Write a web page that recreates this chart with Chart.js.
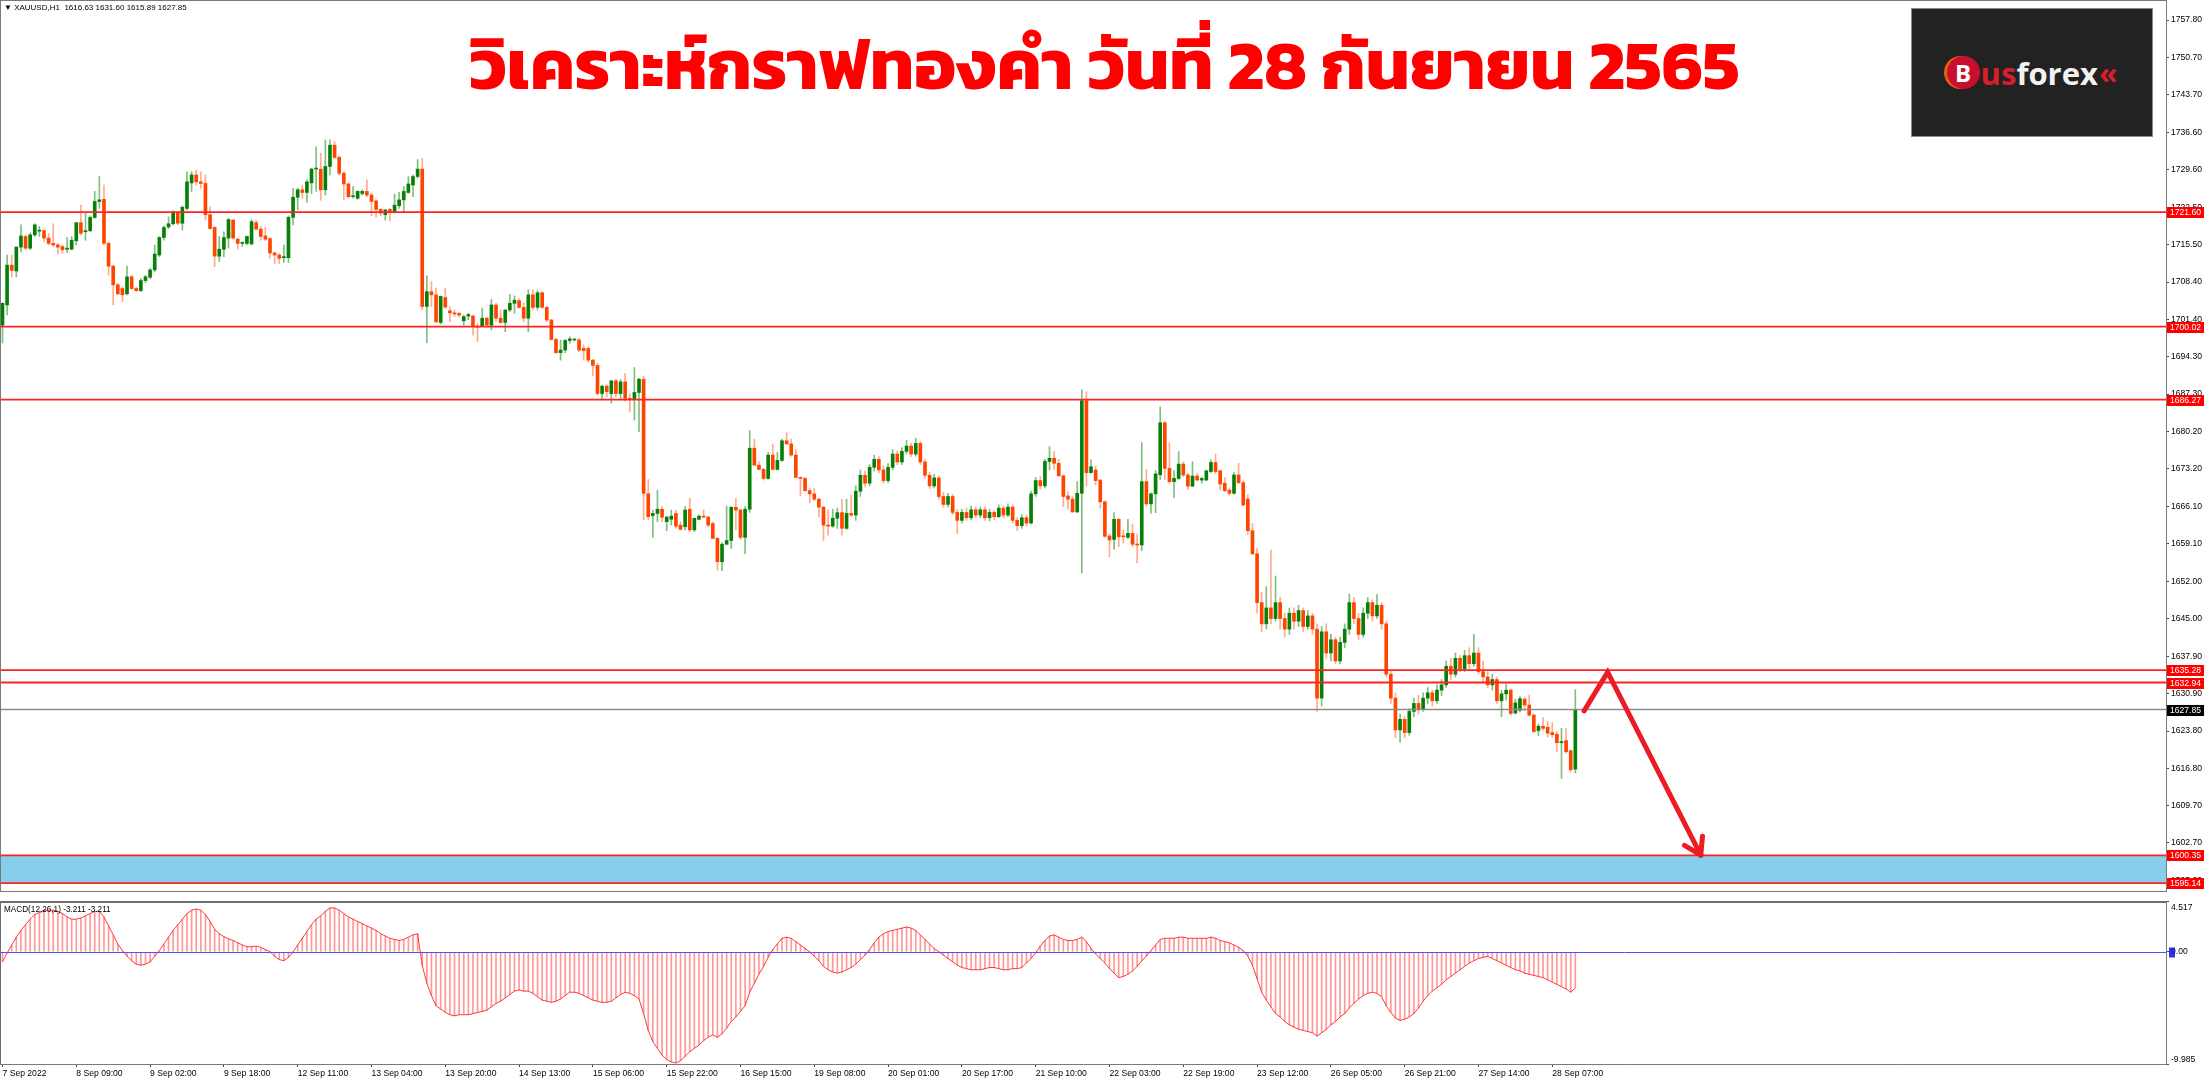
<!DOCTYPE html>
<html>
<head>
<meta charset="utf-8">
<script src="https://cdn.jsdelivr.net/npm/chart.js@4.4.0/dist/chart.umd.min.js"></script>
<style>
html,body{margin:0;padding:0;background:#fff;}
body{width:2209px;height:1080px;position:relative;overflow:hidden;font-family:"Liberation Sans","DejaVu Sans",sans-serif;}
#priceChart{position:absolute;left:0;top:0;}
#macdChart{position:absolute;left:0;top:901px;}
.info{position:absolute;left:4px;font-size:8px;color:#000;white-space:nowrap;}
.title{position:absolute;left:0;top:12px;width:2209px;text-align:center;font-size:70px;font-weight:bold;color:#ff0000;
  font-family:"Kanit","Noto Sans Thai","Noto Sans Thai Looped","Loma","Garuda","Tlwg Typo","Noto Sans",sans-serif;}
.logo{position:absolute;left:1911px;top:8px;width:240px;height:127px;background:#222;border:1px solid #8a8a8a;
  display:flex;align-items:center;justify-content:center;font-family:"Open Sans","Liberation Sans",sans-serif;font-weight:bold;font-size:31px;}
.logo .b{display:inline-block;width:33px;height:33px;border-radius:50%;background:#c8102e;color:#fff;text-align:center;line-height:33px;font-size:24px;box-shadow:-3px 0 0 #e0601a;margin-right:1px;}
.logo .us{color:#d71e2b;}
.logo .fx{color:#f2f2f2;}
.logo .ch{color:#d71e2b;font-size:30px;margin-left:1px;}
</style>
</head>
<body>
<canvas id="priceChart" width="2209" height="892"></canvas>
<canvas id="macdChart" width="2209" height="179"></canvas>
<div class="info" style="top:3px;">&#9660; XAUUSD,H1&nbsp; 1616.63 1631.60 1615.89 1627.85</div>
<div class="info" style="top:905px;font-size:8.2px;">MACD(12,26,1) -3.211 -3.211</div>
<div class="title">วิเคราะห์กราฟทองคำ วันที่ 28 กันยายน 2565</div>
<div class="logo"><span class="b">B</span><span class="us">us</span><span class="fx">forex</span><span class="ch">&laquo;</span></div>
<script>
// hourly XAUUSD candles, 7 Sep 2022 .. 28 Sep 2022 12:00
let opens = [
1700.3,1704.1,1711.6,1710.5,1715.0,1717.0,1714.8,1717.3,1718.0,1718.1,
1716.7,1715.7,1715.4,1715.1,1714.6,1714.6,1716.2,1719.6,1717.9,1718.1,
1720.6,1723.6,1724.0,1715.7,1711.4,1707.9,1707.2,1706.2,1709.4,1707.2,
1706.8,1708.7,1709.3,1710.7,1713.5,1716.8,1718.8,1719.4,1721.4,1719.5,
1722.3,1727.1,1728.6,1727.3,1727.0,1721.1,1718.7,1713.3,1714.6,1716.7,
1720.1,1716.5,1715.7,1715.7,1715.6,1719.6,1718.4,1717.1,1716.6,1713.9,
1713.5,1713.0,1713.0,1720.6,1724.4,1725.8,1725.3,1727.1,1729.7,1729.7,
1725.8,1730.2,1734.2,1731.9,1728.9,1726.9,1724.5,1724.2,1725.1,1725.5,
1724.8,1723.7,1722.1,1721.1,1722.1,1721.5,1722.8,1723.9,1725.3,1726.7,
1728.3,1729.7,1703.8,1706.6,1706.0,1700.8,1705.5,1703.0,1702.6,1702.5,
1701.1,1702.0,1702.0,1700.1,1700.1,1701.6,1700.3,1704.1,1701.6,1700.8,
1703.15,1704.4,1704.9,1703.65,1701.6,1706.0,1703.65,1706.4,1703.65,1701.26,
1697.6,1695.1,1695.6,1697.4,1697.5,1697.5,1695.9,1695.9,1693.7,1692.7,
1687.4,1688.8,1687.4,1689.8,1687.4,1689.6,1686.5,1686.3,1687.6,1690.1,
1668.5,1664.4,1664.8,1665.6,1663.25,1663.7,1664.8,1662.6,1662.3,1665.6,
1661.7,1663.7,1664.3,1664.1,1662.9,1660.1,1655.7,1659.0,1659.7,1665.95,
1665.45,1660.3,1665.6,1677.1,1673.9,1673.1,1671.4,1675.8,1673.1,1674.8,
1678.5,1677.9,1675.8,1671.6,1671.4,1669.1,1668.5,1667.5,1666.0,1662.6,
1662.4,1663.9,1664.95,1662.0,1664.8,1664.5,1669.0,1672.0,1670.5,1673.5,
1675.0,1673.0,1671.0,1673.5,1676.0,1674.5,1676.5,1677.5,1676.0,1678.0,
1674.5,1672.0,1670.0,1671.5,1668.0,1666.5,1668.0,1665.0,1663.5,1665.0,
1664.0,1665.5,1664.5,1665.5,1664.0,1665.0,1664.2,1665.8,1664.5,1666.0,
1663.5,1662.5,1664.0,1663.0,1668.5,1671.0,1670.0,1674.6,1675.2,1674.25,
1671.9,1668.1,1667.5,1665.1,1668.6,1686.05,1672.5,1673.0,1671.1,1667.0,
1660.55,1659.9,1663.7,1660.5,1660.3,1661.05,1659.0,1658.85,1670.8,1666.6,
1668.5,1672.1,1681.9,1673.3,1670.8,1671.4,1674.1,1672.05,1669.95,1671.85,
1671.1,1671.1,1672.7,1674.4,1672.85,1670.5,1669.2,1668.6,1672.05,1670.6,
1667.5,1661.55,1657.2,1648.0,1644.0,1647.0,1645.0,1648.0,1645.0,1643.0,
1646.0,1644.5,1646.5,1643.5,1645.5,1643.0,1630.0,1642.5,1638.5,1641.0,
1637.0,1640.5,1643.0,1648.0,1645.0,1642.0,1646.0,1648.0,1645.5,1647.5,
1644.0,1634.5,1630.0,1624.0,1626.0,1623.5,1627.5,1629.0,1628.0,1630.0,
1631.0,1629.5,1631.5,1632.5,1636.0,1634.5,1637.5,1635.5,1638.0,1636.5,
1638.5,1635.0,1634.0,1632.5,1633.5,1629.5,1630.8,1631.5,1627.2,1627.7,
1629.8,1628.7,1626.8,1623.9,1624.7,1624.5,1623.5,1623.2,1621.6,1622.0,
1620.1,1616.63
]
let highs = [
1704.5,1713.5,1713.5,1715.1,1719.2,1717.3,1717.7,1719.4,1718.9,1718.2,
1717.6,1719.4,1715.7,1715.4,1716.8,1717.0,1719.6,1722.9,1721.4,1720.9,
1725.5,1728.3,1726.7,1716.0,1711.6,1708.2,1707.5,1711.4,1709.7,1707.5,
1709.1,1709.7,1711.0,1715.4,1717.0,1719.0,1720.7,1721.9,1721.5,1722.8,
1729.2,1729.2,1729.5,1729.2,1728.6,1722.6,1718.9,1717.0,1717.9,1720.4,
1720.2,1716.7,1716.0,1717.1,1720.2,1720.0,1718.9,1718.7,1716.8,1714.1,
1713.8,1715.4,1720.9,1726.1,1726.1,1726.7,1727.7,1729.9,1733.9,1732.7,
1735.2,1735.2,1734.9,1732.2,1729.2,1727.1,1726.4,1725.6,1725.8,1727.7,
1725.1,1723.9,1722.3,1722.1,1722.3,1725.0,1725.3,1726.4,1728.3,1728.6,
1731.5,1731.7,1709.6,1708.5,1707.3,1705.8,1707.2,1703.8,1703.15,1702.7,
1702.2,1702.5,1702.2,1700.6,1703.5,1701.8,1705.2,1704.4,1703.15,1703.15,
1706.1,1705.8,1705.3,1704.4,1707.0,1707.0,1706.8,1706.6,1703.8,1701.4,
1697.8,1697.5,1697.6,1698.1,1697.7,1697.8,1696.55,1696.2,1693.85,1693.1,
1689.0,1689.0,1689.8,1690.1,1690.1,1691.2,1687.4,1692.3,1690.3,1690.7,
1671.2,1665.45,1669.2,1666.1,1664.3,1665.45,1665.45,1663.25,1666.1,1667.65,
1663.9,1664.5,1665.45,1664.3,1663.25,1660.3,1659.3,1666.2,1666.1,1667.65,
1665.6,1666.1,1680.4,1678.8,1674.6,1673.3,1676.3,1677.9,1676.3,1678.8,
1680.0,1678.8,1676.9,1671.7,1671.6,1669.5,1669.5,1667.7,1666.1,1665.45,
1665.6,1665.8,1667.46,1667.46,1668.3,1670.0,1673.0,1672.8,1674.0,1675.8,
1675.5,1673.8,1674.2,1676.8,1676.6,1677.2,1678.6,1678.0,1679.0,1678.4,
1675.0,1672.6,1672.2,1671.8,1668.8,1668.6,1668.4,1665.6,1665.6,1665.8,
1666.2,1666.0,1666.0,1666.0,1665.6,1665.4,1666.4,1666.2,1666.6,1666.4,
1664.0,1664.6,1664.5,1669.0,1671.6,1671.8,1675.0,1677.4,1676.45,1675.0,
1672.05,1668.9,1668.0,1670.8,1688.1,1687.75,1674.9,1673.75,1671.2,1667.2,
1660.9,1664.95,1663.9,1661.7,1663.7,1662.8,1660.9,1678.15,1673.1,1668.7,
1672.9,1684.9,1682.1,1678.15,1672.9,1676.45,1674.55,1672.35,1674.55,1672.35,
1671.7,1672.85,1674.9,1676.0,1672.95,1671.6,1669.5,1672.5,1674.25,1670.95,
1668.3,1662.9,1658.3,1650.0,1651.0,1657.9,1653.0,1649.0,1646.0,1647.0,
1647.0,1647.5,1647.0,1646.5,1646.0,1644.0,1643.5,1644.0,1642.0,1641.5,
1641.5,1644.0,1649.6,1649.0,1646.0,1647.0,1649.0,1648.5,1649.5,1648.0,
1644.5,1635.0,1631.0,1627.0,1626.5,1628.0,1630.0,1630.5,1631.0,1632.0,
1631.5,1632.5,1633.5,1637.0,1637.5,1638.5,1638.0,1639.0,1639.5,1642.0,
1639.5,1637.0,1635.0,1634.5,1634.0,1631.5,1632.7,1631.7,1629.8,1630.3,
1630.2,1630.6,1627.0,1625.1,1626.4,1625.6,1625.4,1623.7,1624.3,1624.3,
1620.2,1631.60
]
let lows = [
1696.9,1702.2,1709.4,1709.4,1714.1,1714.5,1714.5,1717.0,1717.0,1716.0,
1715.4,1715.1,1713.7,1713.8,1714.0,1714.5,1715.4,1717.3,1716.3,1717.9,
1720.4,1722.3,1715.4,1709.7,1704.1,1706.0,1704.7,1706.0,1707.0,1706.6,
1706.6,1708.3,1709.1,1710.4,1713.2,1716.3,1718.5,1719.2,1719.2,1718.2,
1722.0,1725.5,1726.7,1726.1,1720.1,1718.4,1711.3,1712.3,1713.2,1714.8,
1716.5,1714.6,1715.1,1715.4,1715.4,1718.2,1716.3,1716.2,1712.9,1711.9,
1711.9,1712.1,1712.1,1719.2,1722.0,1724.2,1723.4,1725.1,1725.5,1723.8,
1724.8,1728.6,1731.7,1728.6,1723.9,1724.2,1724.2,1724.0,1724.8,1724.5,
1720.9,1720.7,1720.9,1720.1,1720.0,1721.4,1722.3,1721.7,1725.1,1724.5,
1728.0,1703.2,1697.0,1703.8,1700.8,1700.5,1703.5,1700.95,1701.9,1701.9,
1700.3,1701.3,1698.4,1697.2,1700.0,1700.0,1699.4,1701.0,1700.6,1699.06,
1702.8,1702.5,1703.5,1700.95,1699.06,1703.15,1703.15,1703.5,1700.95,1697.5,
1694.98,1693.7,1695.1,1696.9,1697.3,1695.3,1693.7,1693.4,1690.7,1687.1,
1686.2,1686.8,1685.6,1686.8,1686.2,1685.9,1684.0,1682.4,1680.2,1663.6,
1663.6,1660.3,1663.25,1663.25,1661.56,1662.6,1662.0,1661.7,1661.7,1661.4,
1661.4,1663.6,1664.1,1662.3,1660.1,1654.1,1654.0,1658.9,1658.2,1661.7,
1659.9,1657.2,1665.0,1673.9,1673.1,1671.1,1671.2,1673.0,1673.0,1674.6,
1677.9,1675.6,1671.6,1668.1,1669.0,1666.8,1667.2,1664.2,1659.7,1660.7,
1662.2,1662.0,1660.7,1661.8,1664.2,1663.5,1668.0,1669.8,1670.0,1672.8,
1672.5,1670.5,1670.6,1673.0,1674.0,1674.0,1676.0,1675.5,1675.6,1674.0,
1671.5,1669.5,1669.6,1667.5,1666.0,1666.0,1664.6,1661.0,1663.0,1663.5,
1663.6,1664.0,1664.0,1663.5,1663.4,1663.6,1664.0,1664.0,1664.2,1663.0,
1661.6,1662.0,1662.4,1662.8,1668.0,1669.4,1669.6,1673.0,1673.1,1671.75,
1666.1,1665.6,1664.95,1664.95,1653.6,1669.95,1672.4,1670.2,1665.8,1660.3,
1656.65,1658.05,1658.55,1659.2,1660.1,1658.5,1655.5,1657.8,1666.2,1664.85,
1664.95,1671.2,1671.2,1670.5,1667.8,1671.2,1671.75,1669.35,1669.85,1670.95,
1670.5,1670.95,1672.5,1672.35,1669.2,1668.9,1668.3,1668.45,1670.35,1666.2,
1660.9,1657.0,1646.0,1642.5,1643.0,1644.0,1644.5,1643.0,1641.5,1642.0,
1643.0,1643.5,1642.5,1643.0,1642.0,1627.5,1628.5,1637.5,1637.0,1636.5,
1636.5,1639.5,1642.0,1644.0,1641.0,1641.5,1645.0,1644.5,1645.0,1643.0,
1634.0,1629.0,1622.5,1621.7,1622.5,1623.0,1626.5,1627.0,1627.5,1629.0,
1628.5,1629.0,1630.5,1632.0,1633.5,1634.0,1635.0,1635.0,1635.5,1636.0,
1634.5,1633.0,1632.0,1631.5,1629.0,1626.5,1629.6,1626.8,1627.0,1627.4,
1627.6,1626.5,1623.5,1622.9,1624.0,1622.7,1622.6,1619.9,1614.9,1619.6,
1616.1,1615.89
]
let closes = [
1704.4,1711.6,1710.6,1715.0,1717.1,1714.8,1717.3,1719.2,1718.2,1716.7,
1715.7,1715.4,1715.0,1714.5,1714.8,1716.3,1719.6,1717.6,1718.1,1720.6,
1723.6,1723.9,1715.7,1711.4,1707.9,1706.2,1706.0,1709.4,1707.2,1706.8,
1708.7,1709.4,1710.7,1713.7,1716.8,1718.7,1719.4,1721.4,1719.5,1722.5,
1727.3,1728.6,1727.3,1727.0,1721.1,1718.5,1713.3,1714.6,1716.8,1720.2,
1716.7,1715.7,1715.8,1717.0,1719.8,1718.4,1717.0,1716.5,1713.9,1713.5,
1712.9,1713.2,1720.6,1724.4,1725.8,1725.3,1727.3,1729.7,1729.9,1725.8,
1730.2,1734.2,1731.9,1728.9,1726.9,1724.5,1724.6,1725.5,1725.5,1724.8,
1723.6,1722.1,1721.4,1722.0,1721.5,1722.9,1723.9,1725.5,1726.9,1728.3,
1729.7,1703.8,1706.6,1706.0,1700.9,1705.7,1703.7,1702.6,1702.4,1702.2,
1701.9,1702.3,1700.1,1699.9,1701.6,1700.3,1704.1,1701.6,1700.8,1703.15,
1704.4,1705.0,1703.65,1701.6,1706.0,1703.65,1706.4,1703.65,1701.26,1697.6,
1695.1,1695.6,1697.4,1697.7,1697.6,1695.6,1695.5,1693.7,1692.7,1687.4,
1688.8,1687.75,1689.8,1687.4,1689.6,1686.5,1686.3,1687.6,1690.1,1668.6,
1664.2,1664.8,1665.6,1664.1,1664.1,1664.3,1662.4,1661.8,1665.45,1661.7,
1663.9,1664.3,1664.1,1662.6,1660.1,1655.7,1659.0,1659.7,1665.95,1665.45,
1660.3,1665.6,1677.1,1673.9,1673.1,1671.4,1675.8,1673.1,1674.8,1678.5,
1677.9,1675.8,1671.6,1671.4,1669.1,1668.5,1667.5,1666.0,1662.6,1662.4,
1663.9,1664.95,1662.0,1664.8,1664.5,1669.0,1672.0,1670.5,1673.5,1675.0,
1673.0,1671.0,1673.5,1676.0,1674.5,1676.5,1677.5,1676.0,1678.0,1674.5,
1672.0,1670.0,1671.5,1668.0,1666.5,1668.0,1665.0,1663.5,1665.0,1664.0,
1665.5,1664.5,1665.5,1664.0,1665.0,1664.2,1665.8,1664.5,1666.0,1663.5,
1662.5,1664.0,1663.0,1668.5,1671.0,1670.0,1674.6,1675.2,1674.25,1671.9,
1668.0,1667.5,1665.1,1668.6,1686.05,1672.5,1673.6,1671.0,1667.0,1660.5,
1659.8,1663.7,1660.4,1660.4,1661.05,1659.0,1658.85,1670.8,1666.6,1668.5,
1672.25,1681.9,1673.3,1670.8,1671.4,1674.1,1672.05,1669.95,1671.85,1671.1,
1671.4,1672.85,1674.4,1672.7,1670.35,1669.1,1668.6,1672.05,1670.6,1666.4,
1661.55,1657.2,1648.0,1644.0,1647.0,1645.0,1648.0,1645.0,1643.0,1646.0,
1644.5,1646.5,1643.5,1645.5,1643.0,1630.0,1642.5,1638.5,1641.0,1637.0,
1640.5,1643.0,1648.0,1645.0,1642.0,1646.0,1648.0,1645.5,1647.5,1644.0,
1634.5,1630.0,1624.0,1626.0,1623.5,1627.5,1629.0,1628.0,1630.0,1631.0,
1629.5,1631.5,1632.5,1636.0,1634.5,1637.5,1635.5,1638.0,1636.5,1638.5,
1635.0,1634.0,1632.5,1633.5,1629.5,1630.8,1631.5,1627.1,1629.1,1629.9,
1628.7,1626.8,1623.7,1624.7,1624.3,1623.4,1623.1,1621.6,1621.8,1619.9,
1616.5,1627.85
]
// MACD(12,26,1) histogram
let macd = [
-0.9,-0.1,0.6,1.3,1.9,2.4,2.9,3.3,3.5,3.7,
3.7,3.7,3.6,3.4,3.1,2.9,2.9,3.0,3.2,3.4,
3.6,3.6,3.1,2.3,1.5,0.7,0.1,-0.4,-0.8,-1.1,
-1.2,-1.1,-0.9,-0.4,0.1,0.7,1.3,1.9,2.4,2.9,
3.4,3.7,3.8,3.7,3.3,2.7,2.0,1.6,1.35,1.15,
1.0,0.8,0.6,0.45,0.45,0.5,0.4,0.2,0.0,-0.4,
-0.7,-0.8,-0.5,0.0,0.6,1.2,1.8,2.4,2.9,3.2,
3.6,3.9,3.9,3.7,3.4,3.1,2.9,2.7,2.5,2.3,
2.1,1.9,1.6,1.4,1.2,1.1,1.0,1.1,1.3,1.5,
1.6,-1.2,-2.8,-3.9,-4.8,-5.1,-5.4,-5.6,-5.7,-5.6,
-5.6,-5.6,-5.5,-5.4,-5.3,-5.2,-4.9,-4.6,-4.4,-4.1,
-3.8,-3.5,-3.4,-3.5,-3.5,-3.7,-4.0,-4.3,-4.4,-4.5,
-4.4,-4.2,-3.9,-3.6,-3.6,-3.7,-3.9,-4.1,-4.3,-4.4,
-4.5,-4.5,-4.4,-4.1,-3.8,-3.6,-3.7,-3.9,-4.2,-5.5,
-7.0,-8.0,-8.6,-9.2,-9.6,-9.8,-9.9,-9.7,-9.3,-8.9,
-8.6,-8.3,-7.9,-7.6,-7.4,-7.6,-7.3,-6.8,-6.2,-5.8,
-5.3,-4.8,-3.6,-2.8,-2.0,-1.3,-0.5,0.2,0.7,1.2,
1.3,1.2,0.9,0.6,0.3,0.0,-0.4,-0.8,-1.3,-1.6,
-1.8,-1.9,-1.8,-1.6,-1.4,-1.1,-0.7,-0.3,0.2,0.8,
1.3,1.6,1.8,1.9,2.0,2.1,2.2,2.1,1.9,1.5,
1.1,0.7,0.3,0.0,-0.3,-0.6,-0.9,-1.2,-1.4,-1.5,
-1.6,-1.6,-1.6,-1.5,-1.4,-1.4,-1.5,-1.6,-1.6,-1.5,
-1.5,-1.4,-1.0,-0.6,-0.1,0.5,1.0,1.4,1.5,1.3,
1.1,1.0,1.0,1.1,1.3,0.9,0.3,-0.2,-0.6,-1.0,
-1.5,-1.9,-2.3,-2.2,-2.0,-1.7,-1.3,-0.8,-0.4,0.1,
0.6,1.1,1.2,1.2,1.2,1.3,1.3,1.2,1.2,1.2,
1.2,1.2,1.3,1.2,1.0,0.9,0.8,0.6,0.4,0.1,
-0.4,-1.2,-2.4,-3.6,-4.3,-4.9,-5.5,-5.8,-6.2,-6.5,
-6.7,-6.9,-7.0,-7.1,-7.2,-7.5,-7.2,-6.9,-6.5,-6.2,
-5.8,-5.5,-5.0,-4.6,-4.2,-3.9,-3.7,-3.6,-3.7,-4.0,
-4.8,-5.4,-5.9,-6.1,-6.0,-5.8,-5.5,-5.0,-4.4,-3.9,
-3.5,-3.2,-2.9,-2.5,-2.2,-1.9,-1.6,-1.3,-1.0,-0.8,
-0.6,-0.5,-0.4,-0.6,-0.8,-1.0,-1.2,-1.4,-1.6,-1.7,
-1.9,-2.0,-2.1,-2.2,-2.3,-2.5,-2.7,-2.9,-3.1,-3.3,
-3.6,-3.211
]

let tickLabels = ["7 Sep 2022","8 Sep 09:00","9 Sep 02:00","9 Sep 18:00","12 Sep 11:00","13 Sep 04:00",
"13 Sep 20:00","14 Sep 13:00","15 Sep 06:00","15 Sep 22:00","16 Sep 15:00","19 Sep 08:00","20 Sep 01:00",
"20 Sep 17:00","21 Sep 10:00","22 Sep 03:00","22 Sep 19:00","23 Sep 12:00","26 Sep 05:00","26 Sep 21:00",
"27 Sep 14:00","28 Sep 07:00"]
let barsPerTick = 16

let priceTicks = [1757.80,1750.70,1743.70,1736.60,1729.60,1722.50,1715.50,1708.40,1701.40,1694.30,1687.30,
1680.20,1673.20,1666.10,1659.10,1652.00,1645.00,1637.90,1630.90,1623.80,1616.80,1609.70,1602.70,1595.60]
let macdTicks = [4.517, 0, -9.985]
let macdTickText = ["4.517", "0.00", "-9.985"]

let redLevels = [1721.60, 1700.02, 1686.27, 1635.28, 1632.94]
let bidPrice = 1627.85
let zoneTop = 1600.35
let zoneBottom = 1595.14
// projection arrow: bar index / price
let arrowPath = [{x:342.9, y:1627.6}, {x:348.0, y:1634.9}, {x:368.2, y:1600.4}]

let xMin = -0.54, xMax = 469.06
let priceMin = 1593.46, priceMax = 1761.57

Chart.defaults.font.family = "Liberation Sans"
Chart.defaults.animation = false

let idx = opens.map((o, i) => i)

function candleColor(i, up, down){
  return closes[i] >= opens[i] ? up : down
}

function hline(ctx, a, y, color, w){
  ctx.strokeStyle = color
  ctx.lineWidth = w
  ctx.beginPath()
  ctx.moveTo(a.left, y)
  ctx.lineTo(a.right, y)
  ctx.stroke()
}

function tag(ctx, a, y, text, bg){
  ctx.fillStyle = bg
  ctx.fillRect(a.right + 1, Math.round(y) - 5, 37, 11)
  ctx.fillStyle = "#fff"
  ctx.font = "8.6px Liberation Sans"
  ctx.textBaseline = "middle"
  ctx.textAlign = "left"
  ctx.fillText(text, a.right + 4, Math.round(y) + 0.5)
}

function rightAxis(extra){
  return Object.assign({
    position: "right",
    grid: {drawOnChartArea: false, tickLength: 3, color: "#444"},
    border: {color: "#7a7a7a"},
    ticks: {autoSkip: false, padding: 2, color: "#000", font: {size: 8.6}},
    afterFit: s => { s.width = 43; s.paddingTop = 0; s.paddingBottom = 0 }
  }, extra)
}

let pricePlugin = {
  id: "priceMarks",
  beforeDatasetsDraw(chart){
    let {ctx, chartArea: a, scales: {y}} = chart
    let t = y.getPixelForValue(zoneTop), b = y.getPixelForValue(zoneBottom)
    ctx.fillStyle = "#87ceeb"
    ctx.fillRect(a.left, t, a.right - a.left, b - t)
  },
  afterDatasetsDraw(chart){
    let {ctx, chartArea: a, scales: {x, y}} = chart
    ctx.save()
    hline(ctx, a, y.getPixelForValue(bidPrice), "#8c8c8c", 1.5)
    redLevels.concat([zoneTop, zoneBottom]).forEach(v => hline(ctx, a, y.getPixelForValue(v), "#ff2222", 1.8))

    let pts = arrowPath.map(p => [x.getPixelForValue(p.x), y.getPixelForValue(p.y)])
    ctx.strokeStyle = "#ec1c24"
    ctx.lineWidth = 5
    ctx.lineCap = "round"
    ctx.lineJoin = "miter"
    ctx.beginPath()
    pts.forEach((p, k) => k ? ctx.lineTo(p[0], p[1]) : ctx.moveTo(p[0], p[1]))
    ctx.stroke()
    let [x1, y1] = pts[pts.length - 2], [x2, y2] = pts[pts.length - 1]
    let ang = Math.atan2(y1 - y2, x1 - x2)
    ;[-0.56, 0.56].forEach(d => {
      ctx.beginPath()
      ctx.moveTo(x2, y2)
      ctx.lineTo(x2 + 19 * Math.cos(ang + d), y2 + 19 * Math.sin(ang + d))
      ctx.stroke()
    })

    ctx.strokeStyle = "#7a7a7a"
    ctx.lineWidth = 1
    ctx.strokeRect(a.left + 0.5, a.top + 0.5, a.right - a.left, a.bottom - a.top - 1)

    redLevels.concat([zoneTop, zoneBottom]).forEach(v => tag(ctx, a, y.getPixelForValue(v), v.toFixed(2), "#ff0000"))
    tag(ctx, a, y.getPixelForValue(bidPrice), bidPrice.toFixed(2), "#000")
    ctx.restore()
  }
}

new Chart(document.getElementById("priceChart"), {
  type: "bar",
  data: {
    datasets: [
      {
        data: idx.map(i => ({x: i, y: [lows[i], highs[i]]})),
        barThickness: 1, grouped: false,
        backgroundColor: c => candleColor(c.dataIndex, "rgba(0,128,0,0.5)", "rgba(255,69,0,0.45)")
      },
      {
        data: idx.map(i => ({x: i, y: [opens[i], closes[i]]})),
        barThickness: 3, minBarLength: 1, grouped: false,
        backgroundColor: c => candleColor(c.dataIndex, "#0b7f0b", "#ff4500")
      }
    ]
  },
  options: {
    responsive: false,
    layout: {padding: 0},
    plugins: {legend: {display: false}, tooltip: {enabled: false}},
    scales: {
      x: {type: "linear", min: xMin, max: xMax, offset: false, display: false},
      y: rightAxis({
        min: priceMin, max: priceMax,
        afterBuildTicks: s => { s.ticks = priceTicks.map(v => ({value: v})) },
        ticks: {autoSkip: false, padding: 2, color: "#000", font: {size: 8.6}, callback: v => v.toFixed(2)}
      })
    }
  },
  plugins: [pricePlugin]
})

let macdPlugin = {
  id: "macdMarks",
  afterDatasetsDraw(chart){
    let {ctx, chartArea: a, scales: {y}} = chart
    ctx.save()
    let z = Math.round(y.getPixelForValue(0)) + 0.5
    hline(ctx, a, z, "#5050ff", 1)
    ctx.strokeStyle = "#6e6e6e"
    ctx.lineWidth = 2
    ctx.beginPath()
    ctx.moveTo(a.left, a.top + 1)
    ctx.lineTo(a.right, a.top + 1)
    ctx.stroke()
    ctx.lineWidth = 1
    ctx.beginPath()
    ctx.moveTo(a.left + 0.5, a.top)
    ctx.lineTo(a.left + 0.5, a.bottom)
    ctx.stroke()

    // MT4 keeps the top and bottom labels inside the window
    ctx.fillStyle = "#000"
    ctx.font = "8.6px Liberation Sans"
    ctx.textAlign = "left"
    ctx.textBaseline = "middle"
    let shift = [7, 0, -4]
    macdTicks.forEach((v, k) => ctx.fillText(macdTickText[k], a.right + 5, y.getPixelForValue(v) + shift[k]))
    ctx.fillStyle = "rgba(16,16,224,0.85)"
    ctx.fillRect(a.right + 3, z - 5, 6, 10)
    ctx.restore()
  }
}

new Chart(document.getElementById("macdChart"), {
  data: {
    datasets: [
      {
        type: "bar",
        data: idx.map(i => ({x: i, y: macd[i]})),
        barThickness: 1, grouped: false,
        backgroundColor: "rgba(255,50,50,0.5)"
      },
      {
        type: "line",
        data: idx.map(i => ({x: i, y: macd[i]})),
        borderColor: "#ff3a3a", borderWidth: 1, pointRadius: 0, tension: 0
      }
    ]
  },
  options: {
    responsive: false,
    layout: {padding: 0},
    plugins: {legend: {display: false}, tooltip: {enabled: false}},
    scales: {
      x: {
        type: "linear", min: xMin, max: xMax, offset: false,
        grid: {drawOnChartArea: false, tickLength: 3, color: "#444", offset: false},
        border: {color: "#7a7a7a"},
        afterBuildTicks: s => { s.ticks = tickLabels.map((t, k) => ({value: k * barsPerTick})) },
        ticks: {autoSkip: false, maxRotation: 0, align: "start", padding: 1, color: "#000", font: {size: 8.6},
          callback: (v, k) => tickLabels[k]},
        afterFit: s => { s.height = 16; s.paddingLeft = 0; s.paddingRight = 0 }
      },
      y: rightAxis({
        min: -9.985, max: 4.517,
        afterBuildTicks: s => { s.ticks = macdTicks.map(v => ({value: v})) },
        ticks: {display: false}
      })
    }
  },
  plugins: [macdPlugin]
})
</script>
</body>
</html>
